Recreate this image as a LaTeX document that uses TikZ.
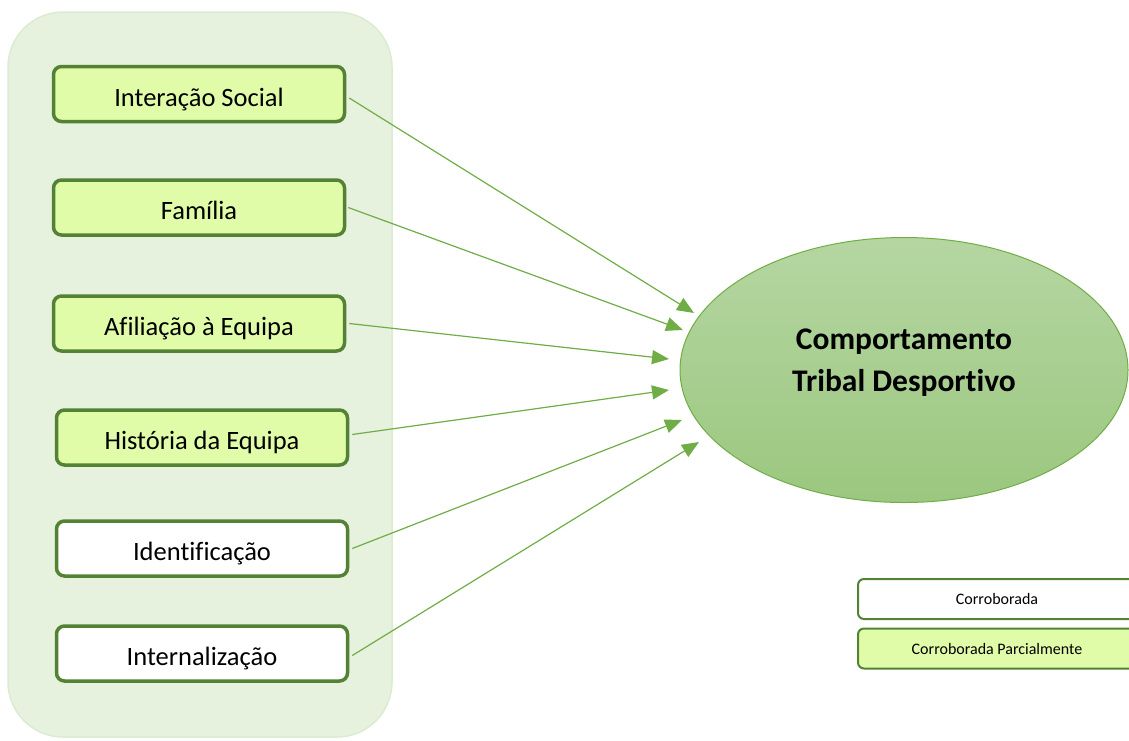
\documentclass[tikz,border=0pt]{standalone}
\usepackage{fontspec}
\setmainfont{Carlito}[Ligatures=NoCommon]
\usetikzlibrary{shapes.geometric,arrows.meta}
\definecolor{boxline}{HTML}{548235}
\definecolor{boxfill}{HTML}{E1FCA9}
\definecolor{panelfill}{HTML}{E6F1DE}
\definecolor{panelline}{HTML}{DCEBD2}
\definecolor{arrowgreen}{HTML}{70AD47}
\definecolor{ovaltop}{HTML}{B5D6A2}
\definecolor{ovalbot}{HTML}{9BC77F}
\begin{document}
\begin{tikzpicture}[x=1pt,y=-1pt,
        factor/.style={draw=boxline,line width=3.5pt,rounded corners=8pt,
            minimum width=291pt,minimum height=55pt,text height=24pt,text depth=0pt,
            font=\fontsize{26.5}{30}\selectfont},
        partial/.style={factor,fill=boxfill},
        full/.style={factor,fill=white},
        legendbox/.style={draw=boxline,line width=2pt,rounded corners=6pt,
            minimum width=278pt,minimum height=40pt,
            font=\fontsize{16}{19}\selectfont},
        link/.style={draw=arrowgreen,line width=1.2pt,
            -{Triangle[length=17pt,width=14pt]}}]
        \useasboundingbox (0,0) rectangle (1129,740);
        \draw[fill=panelfill,draw=panelline,line width=1.5pt,rounded corners=55pt] (8,12) rectangle (392,737);
        \node[partial] (social) at (199,94) {Interação Social};
        \node[partial] (familia) at (199,207.5) {Família};
        \node[partial] (afiliacao) at (199,323.5) {Afiliação à Equipa};
        \node[partial] (historia) at (202,437.5) {História da Equipa};
        \node[full] (identif) at (202,548.5) {Identificação};
        \node[full] (intern) at (202,653.5) {Internalização};
        \node[ellipse,draw=arrowgreen,line width=1pt,top color=ovaltop,bottom color=ovalbot,
            minimum width=448pt,minimum height=265pt] (tribal) at (904,370) {};
        \node[font=\fontsize{31.5}{42}\selectfont\bfseries,align=center] (tribaltxt) at (904,363)
            {Comportamento\\Tribal Desportivo};
        \coordinate (t1) at (694,313);
        \coordinate (t2) at (683,330);
        \coordinate (t3) at (669,359);
        \coordinate (t4) at (669,390);
        \coordinate (t5) at (682,420);
        \coordinate (t6) at (699,442);
        \draw[link] ([shift={(3pt,-4pt)}]social.east) -- (t1);
        \draw[link] ([xshift=2pt]familia.east) -- (t2);
        \draw[link] ([xshift=3pt]afiliacao.east) -- (t3);
        \draw[link] ([shift={(3pt,3pt)}]historia.east) -- (t4);
        \draw[link] ([xshift=3pt]identif.east) -- (t5);
        \draw[link] ([shift={(3pt,-2pt)}]intern.east) -- (t6);
        \node[legendbox,fill=white] (legfull) at (997,599) {Corroborada};
        \node[legendbox,fill=boxfill] (legpart) at (997,648.5) {Corroborada Parcialmente};
    \end{tikzpicture}
\end{document}
